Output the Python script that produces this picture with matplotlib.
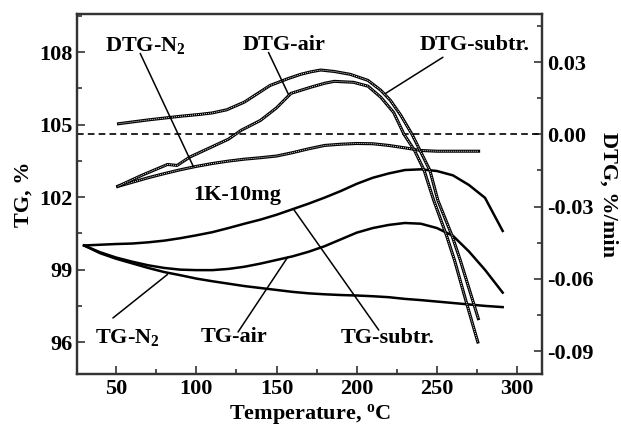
import matplotlib
matplotlib.use('Agg')
import matplotlib.pyplot as plt
from matplotlib.ticker import MultipleLocator, FormatStrFormatter

plt.rcParams['font.family'] = 'Liberation Serif'
plt.rcParams['font.weight'] = 'bold'
plt.rcParams['axes.labelweight'] = 'bold'
plt.rcParams['axes.unicode_minus'] = False
plt.rcParams['mathtext.fontset'] = 'custom'
plt.rcParams['mathtext.rm'] = 'Liberation Serif:bold'
plt.rcParams['mathtext.bf'] = 'Liberation Serif:bold'
plt.rcParams['mathtext.default'] = 'rm'
plt.rcParams['lines.solid_joinstyle'] = 'round'

# TG curves, %
t_tg = [30, 40, 50, 60, 70, 80, 90, 100, 110, 120, 130, 140, 150, 160, 170,
        180, 190, 200, 210, 220, 230, 240, 250, 260, 270, 280, 291]
tg_n2 = [100.0, 99.68, 99.45, 99.26, 99.07, 98.9, 98.77, 98.63, 98.52, 98.42,
         98.32, 98.24, 98.16, 98.08, 98.02, 97.98, 97.95, 97.93, 97.9, 97.86,
         97.79, 97.74, 97.68, 97.62, 97.56, 97.5, 97.45]
tg_air = [100.0, 99.72, 99.5, 99.33, 99.18, 99.07, 99.0, 98.98, 98.98, 99.03,
          99.12, 99.25, 99.4, 99.55, 99.74, 99.97, 100.25, 100.53, 100.72,
          100.85, 100.93, 100.9, 100.72, 100.4, 99.75, 98.99, 98.05]
tg_sub = [100.0, 100.03, 100.06, 100.08, 100.13, 100.2, 100.3, 100.42, 100.55,
          100.72, 100.9, 101.07, 101.27, 101.5, 101.73, 101.98, 102.25, 102.55,
          102.8, 102.98, 103.12, 103.15, 103.08, 102.9, 102.5, 101.97, 100.6]

# DTG curves, %/min
t_n2 = [51, 60, 70, 80, 90, 100, 110, 120, 130, 140, 150, 160, 170, 180, 190,
        200, 210, 220, 230, 240, 250, 260, 276]
dtg_n2 = [-0.0216, -0.0199, -0.0180, -0.0163, -0.0147, -0.0133, -0.0121,
          -0.0111, -0.0103, -0.0097, -0.0090, -0.0076, -0.0060, -0.0046,
          -0.0041, -0.0038, -0.0039, -0.0046, -0.0056, -0.0067, -0.0070,
          -0.0070, -0.0070]
t_air = [51, 66, 82, 88, 96, 109, 120, 128, 140, 150, 159, 171, 180, 186, 198,
         207, 215, 223, 229.5, 236, 242, 248, 256, 261, 268, 275.5]
dtg_air = [-0.0216, -0.0170, -0.0125, -0.0129, -0.0094, -0.0054, -0.0020,
           0.0017, 0.0058, 0.0110, 0.0170, 0.0195, 0.0212, 0.0220, 0.0216,
           0.0200, 0.0154, 0.0091, 0.0, -0.0066, -0.0149, -0.0274, -0.0420,
           -0.0523, -0.0689, -0.0862]
t_sub = [51.5, 70, 90, 102.5, 110, 119, 130, 146, 157, 165, 171, 177.5, 186,
         196, 207, 215, 221, 227.5, 234.5, 239.4, 245.6, 250.6, 259.4, 264.6,
         272.3, 275.8]
dtg_sub = [0.0044, 0.0060, 0.0075, 0.0083, 0.0089, 0.0102, 0.0134, 0.0203,
           0.0231, 0.0249, 0.0259, 0.0267, 0.0261, 0.0249, 0.0224, 0.0183,
           0.0141, 0.0079, 0.0, -0.0066, -0.0149, -0.0274, -0.0420, -0.0523,
           -0.0689, -0.0765]

fs = 16
fig = plt.figure(figsize=(6.21, 4.28), dpi=100)
ax = fig.add_axes([0.124, 0.126, 0.749, 0.841])
ax2 = ax.twinx()

for x, y in [(t_tg, tg_n2), (t_tg, tg_air), (t_tg, tg_sub)]:
    ax.plot(x, y, color='k', lw=1.8)

ax2.axhline(0, color='k', lw=1.2, ls=(0, (4, 2.5)))
# DTG traces: dark line with a light dotted core
for x, y in [(t_n2, dtg_n2), (t_air, dtg_air), (t_sub, dtg_sub)]:
    ax2.plot(x, y, color='k', lw=2.2)
    ax2.plot(x, y, color='w', lw=0.6, ls=(0, (1.2, 1.2)))

ax.set_xlim(25.6, 315.6)
ax.set_ylim(94.68, 109.57)
ax2.set_ylim(-0.0995, 0.0499)

ax.xaxis.set_major_locator(MultipleLocator(50))
ax.xaxis.set_minor_locator(MultipleLocator(25))
ax.yaxis.set_major_locator(MultipleLocator(3))
ax.yaxis.set_minor_locator(MultipleLocator(1.5))
ax2.yaxis.set_major_locator(MultipleLocator(0.03))
ax2.yaxis.set_minor_locator(MultipleLocator(0.015))
ax2.yaxis.set_major_formatter(FormatStrFormatter('%.2f'))

ax.tick_params(which='both', direction='in', top=False, right=False,
               labelsize=fs, width=1.2, color='#333333')
ax.tick_params(which='major', length=6)
ax.tick_params(which='minor', length=3.5)
ax2.tick_params(which='both', direction='in', labelsize=fs, width=1.2,
                color='#333333')
ax2.tick_params(which='major', length=6)
ax2.tick_params(which='minor', length=3.5)
for a in (ax, ax2):
    for s in a.spines.values():
        s.set_linewidth(1.6)
        s.set_color('#333333')

ax.set_xlabel('Temperature, $^{\\mathrm{o}}$C', fontsize=fs, labelpad=2)
ax.set_ylabel('TG, %', fontsize=fs, labelpad=4)
ax2.set_ylabel('DTG, %/min', fontsize=fs, rotation=270, labelpad=18)

# labels with leader lines
lead = dict(arrowstyle='-', color='k', lw=1.1, shrinkA=0, shrinkB=0)
ax2.text(68, 0.0369, 'DTG-N$_2$', fontsize=fs, ha='center', va='center')
ax2.annotate('', xy=(98.1, -0.0133), xytext=(65, 0.0336), arrowprops=lead)
ax2.text(154.4, 0.0369, 'DTG-air', fontsize=fs, ha='center', va='center')
ax2.annotate('', xy=(157.5, 0.0165), xytext=(145, 0.034), arrowprops=lead)
ax2.text(273.75, 0.0369, 'DTG-subtr.', fontsize=fs, ha='center', va='center')
ax2.annotate('', xy=(218, 0.017), xytext=(253.75, 0.032), arrowprops=lead)
ax.text(125.6, 102.08, '1K-10mg', fontsize=fs, ha='center', va='center')
ax.text(56.9, 96.21, 'TG-N$_2$', fontsize=fs, ha='center', va='center')
ax.annotate('', xy=(82, 98.8), xytext=(48, 97.0), arrowprops=lead)
ax.text(123.75, 96.21, 'TG-air', fontsize=fs, ha='center', va='center')
ax.annotate('', xy=(157, 99.52), xytext=(126, 96.42), arrowprops=lead)
ax.text(219, 96.17, 'TG-subtr.', fontsize=fs, ha='center', va='center')
ax.annotate('', xy=(160.6, 101.5), xytext=(213.75, 96.5), arrowprops=lead)

fig.savefig('out.png', dpi=100)
